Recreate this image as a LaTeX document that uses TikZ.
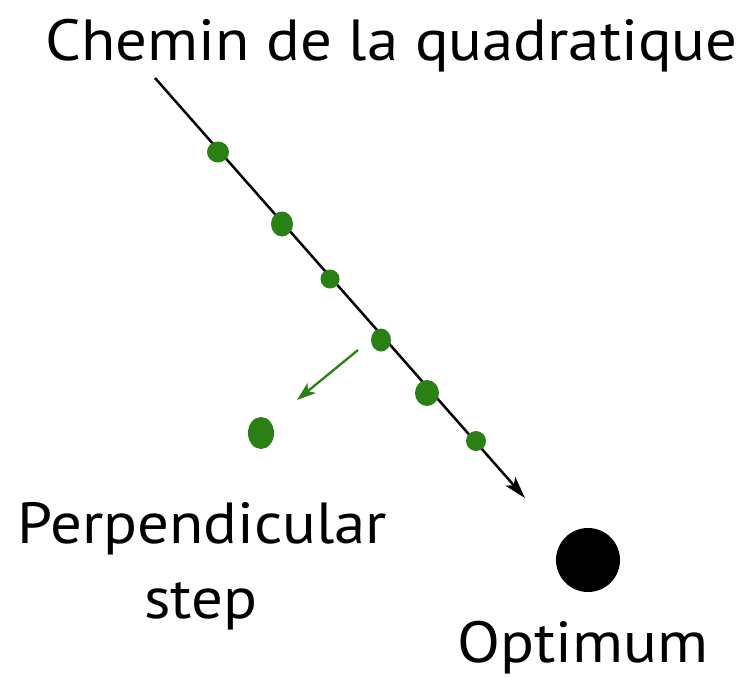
\documentclass[tikz,border=0pt]{standalone}
\usepackage{fontspec}
\setmainfont{PT Sans}
\usetikzlibrary{arrows.meta,shapes.geometric}
\definecolor{dotgreen}{RGB}{42,128,20}
\tikzset{
  gdot/.style={ellipse,fill=dotgreen,draw=none,inner sep=0pt},
  lbl/.style={inner sep=0pt,anchor=base west,xscale=1.083,font=\fontsize{58}{64}\selectfont},
  path line/.style={draw=black,line width=2.5pt,-{Stealth[length=22pt,width=13pt,inset=5pt]}},
  perp arrow/.style={draw=dotgreen,line width=2.3pt,-{Stealth[length=19pt,width=13pt,inset=5pt]}}
}
\begin{document}
\begin{tikzpicture}[x=1pt,y=-1pt]
\useasboundingbox[fill=white] (0,0) rectangle (744,677);
\coordinate (start) at (155,78);
\coordinate (end) at (525,498);
\draw[path line] (start) -- (end);
\node[gdot,minimum width=22pt,minimum height=21pt] (d1) at (218,152) {};
\node[gdot,minimum width=22pt,minimum height=25pt] (d2) at (282,224) {};
\node[gdot,minimum width=19pt,minimum height=19pt] (d3) at (330,279) {};
\node[gdot,minimum width=20pt,minimum height=23pt] (d4) at (381,340) {};
\node[gdot,minimum width=24pt,minimum height=26pt] (d5) at (427,393) {};
\node[gdot,minimum width=20pt,minimum height=20pt] (d6) at (476,441) {};
\node[gdot,minimum width=26pt,minimum height=32pt] (side) at (261,433) {};
\coordinate (pfrom) at (358,350);
\coordinate (pto) at (297,400);
\draw[perp arrow] (pfrom) -- (pto);
\node[circle,fill=black,inner sep=0pt,minimum size=64pt] (opt) at (588,560) {};
\node[lbl] (title) at (45,61) {Chemin de la quadratique};
\node[lbl] (perp) at (17,543) {Perpendicular};
\node[lbl,anchor=base] (step) at (201,618) {step};
\node[lbl] (optlbl) at (457,662) {Optimum};
\end{tikzpicture}
\end{document}
